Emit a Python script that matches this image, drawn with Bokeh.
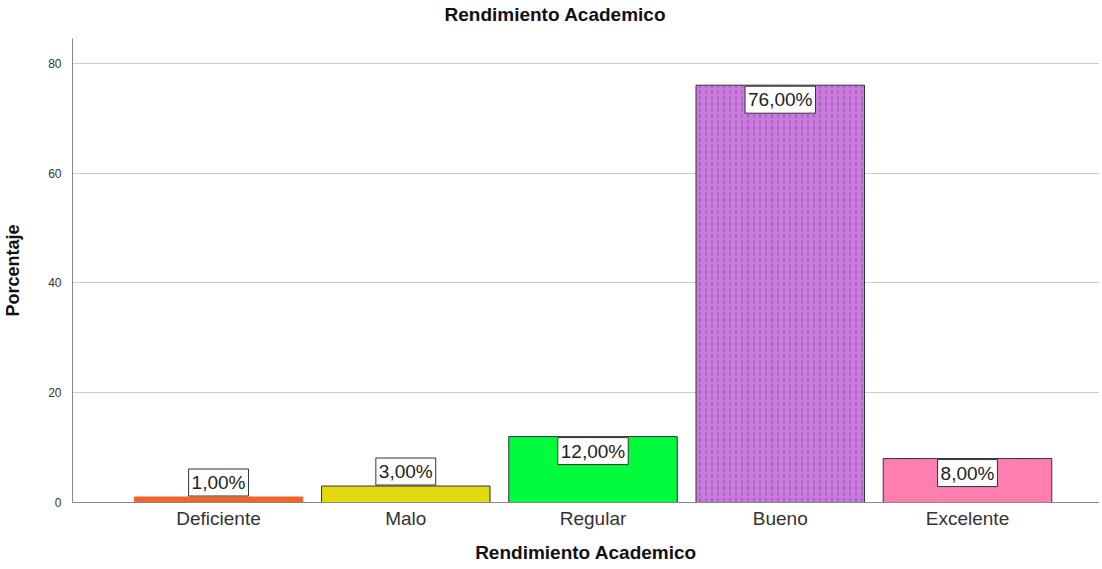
from bokeh.plotting import figure
from bokeh.models import ColumnDataSource, FixedTicker, Range1d, Title
from bokeh.core.properties import value
from bokeh.embed import file_html
from bokeh.resources import INLINE

categories = ["Deficiente", "Malo", "Regular", "Bueno", "Excelente"]
values = [1.0, 3.0, 12.0, 76.0, 8.0]
colors = ["#f0652a", "#e2d80f", "#00fa3c", "#c979e0", "#ff80b0"]
line_colors = ["#f0652a", "#333333", "#333333", "#333333", "#333333"]
hatches = [" ", " ", " ", "vertical_dash", " "]
labels = [f"{v:.2f}".replace(".", ",") + "%" for v in values]
y_ticks = [0, 20, 40, 60, 80]

xs = list(range(len(categories)))
src = ColumnDataSource(dict(x=xs, top=values, color=colors, lc=line_colors,
                            hatch=hatches, label=labels))

FONT = "Liberation Sans"
p = figure(frame_width=1027, frame_height=464, output_backend="svg", toolbar_location=None,
           x_range=Range1d(-0.78, 4.705), y_range=Range1d(0, 84.5),
           min_border_left=0, min_border_right=0, min_border_top=0, min_border_bottom=0,
           title="Rendimiento Academico")
p.title.align = "left"
p.title.offset = 372
p.title.text_font = FONT
p.title.text_font_size = "19px"
p.title.text_font_style = "bold"
p.title.text_color = "#111111"
p.title.standoff = 3
p.add_layout(Title(text=" ", text_font_size="9px", standoff=0), "above")
p.outline_line_color = None

p.vbar(x="x", top="top", width=0.9, bottom=0, source=src, fill_color="color",
       line_color="lc", line_width=1, hatch_pattern="hatch", hatch_color="#444444",
       hatch_scale=6, hatch_weight=1, hatch_alpha=0.55)

above = [i for i, v in enumerate(values) if v < 5]
inside = [i for i, v in enumerate(values) if v >= 5]
src_above = ColumnDataSource(dict(x=[xs[i] for i in above], y=[values[i] for i in above],
                                  label=[labels[i] for i in above]))
src_inside = ColumnDataSource(dict(x=[xs[i] for i in inside], y=[values[i] for i in inside],
                                   label=[labels[i] for i in inside]))
common = dict(x="x", y="y", text="label", text_align="center", text_font=value(FONT),
              text_font_size="19px", text_color="#222222", background_fill_color="white",
              border_line_color="#333333", border_line_width=1, padding=3)
p.text(source=src_above, text_baseline="bottom", y_offset=-1, **common)
p.text(source=src_inside, text_baseline="top", y_offset=1, **common)

p.xaxis.ticker = FixedTicker(ticks=xs)
p.xaxis.major_label_overrides = {i: c for i, c in enumerate(categories)}
p.xaxis.major_tick_line_color = None
p.xaxis.major_tick_out = 0
p.xaxis.major_tick_in = 0
p.xaxis.minor_tick_line_color = None
p.xaxis.axis_line_color = "#888888"
p.xaxis.major_label_text_font = FONT
p.xaxis.major_label_text_font_size = "19px"
p.xaxis.major_label_text_color = "#333333"
p.xaxis.major_label_standoff = 5
p.xaxis.axis_label = "Rendimiento Academico"
p.xaxis.axis_label_text_font = FONT
p.xaxis.axis_label_text_font_size = "19px"
p.xaxis.axis_label_text_font_style = "bold"
p.xaxis.axis_label_text_color = "#111111"
p.xaxis.axis_label_standoff = 10

p.yaxis.ticker = FixedTicker(ticks=y_ticks)
p.yaxis.major_tick_line_color = None
p.yaxis.major_tick_out = 0
p.yaxis.major_tick_in = 0
p.yaxis.minor_tick_line_color = None
p.yaxis.axis_line_color = "#888888"
p.yaxis.major_label_text_font = FONT
p.yaxis.major_label_text_font_size = "12px"
p.yaxis.major_label_text_color = "#333333"
p.yaxis.major_label_standoff = 11
p.yaxis.axis_label = "Porcentaje"
p.yaxis.axis_label_text_font = FONT
p.yaxis.axis_label_text_font_size = "18px"
p.yaxis.axis_label_text_font_style = "bold"
p.yaxis.axis_label_text_color = "#111111"
p.yaxis.axis_label_standoff = 22

p.xgrid.grid_line_color = None
p.ygrid.grid_line_color = "#cccccc"
p.ygrid.ticker = FixedTicker(ticks=y_ticks)

open("out.html", "w").write(file_html(p, INLINE))
